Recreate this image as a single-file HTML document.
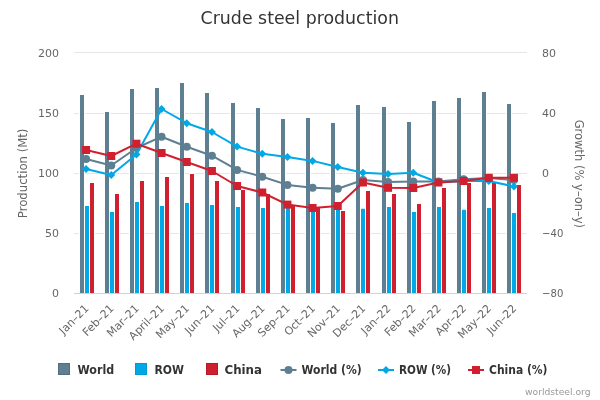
<!DOCTYPE html><html><head><meta charset="utf-8"><title>Crude steel production</title>
<style>html,body{margin:0;padding:0;background:#fff;}svg{display:block;will-change:transform;}text{font-family:'DejaVu Sans', 'Liberation Sans', sans-serif;}</style></head><body>
<svg width="600" height="400" viewBox="0 0 600 400">
<rect x="0" y="0" width="600" height="400" fill="#ffffff"/>
<text x="299.75" y="24" text-anchor="middle" font-size="18" fill="#333333" textLength="198.3" lengthAdjust="spacingAndGlyphs">Crude steel production</text>
<rect x="74" y="52" width="453" height="1" fill="#e6e6e6"/>
<rect x="74" y="113" width="453" height="1" fill="#e6e6e6"/>
<rect x="74" y="173" width="453" height="1" fill="#e6e6e6"/>
<rect x="74" y="233" width="453" height="1" fill="#e6e6e6"/>
<text x="59" y="56.6" text-anchor="end" font-size="11" fill="#666666">200</text>
<text x="59" y="116.5" text-anchor="end" font-size="11" fill="#666666">150</text>
<text x="59" y="176.5" text-anchor="end" font-size="11" fill="#666666">100</text>
<text x="59" y="236.5" text-anchor="end" font-size="11" fill="#666666">50</text>
<text x="59" y="296.6" text-anchor="end" font-size="11" fill="#666666">0</text>
<text x="542" y="56.6" font-size="11" fill="#666666">80</text>
<text x="542" y="116.5" font-size="11" fill="#666666">40</text>
<text x="542" y="176.5" font-size="11" fill="#666666">0</text>
<text x="542" y="236.5" font-size="11" fill="#666666" textLength="21.3" lengthAdjust="spacingAndGlyphs">−40</text>
<text x="542" y="296.6" font-size="11" fill="#666666" textLength="21.3" lengthAdjust="spacingAndGlyphs">−80</text>
<text transform="translate(27,173.4) rotate(-90)" text-anchor="middle" font-size="12" fill="#666666" textLength="89.6" lengthAdjust="spacingAndGlyphs">Production (Mt)</text>
<text transform="translate(574.5,173.85) rotate(90)" text-anchor="middle" font-size="12" fill="#666666" textLength="108.4" lengthAdjust="spacingAndGlyphs">Growth (% y–on–y)</text>
<rect x="79.5" y="94.5" width="5" height="199.5" fill="#5e7f92" stroke="#ffffff" stroke-width="1"/>
<rect x="84.5" y="205.5" width="5" height="88.5" fill="#00a9e6" stroke="#ffffff" stroke-width="1"/>
<rect x="89.5" y="182.5" width="5" height="111.5" fill="#d0202f" stroke="#ffffff" stroke-width="1"/>
<rect x="104.5" y="111.5" width="5" height="182.5" fill="#5e7f92" stroke="#ffffff" stroke-width="1"/>
<rect x="109.5" y="211.5" width="5" height="82.5" fill="#00a9e6" stroke="#ffffff" stroke-width="1"/>
<rect x="114.5" y="193.5" width="5" height="100.5" fill="#d0202f" stroke="#ffffff" stroke-width="1"/>
<rect x="129.5" y="88.5" width="5" height="205.5" fill="#5e7f92" stroke="#ffffff" stroke-width="1"/>
<rect x="134.5" y="201.5" width="5" height="92.5" fill="#00a9e6" stroke="#ffffff" stroke-width="1"/>
<rect x="139.5" y="180.5" width="5" height="113.5" fill="#d0202f" stroke="#ffffff" stroke-width="1"/>
<rect x="154.5" y="87.5" width="5" height="206.5" fill="#5e7f92" stroke="#ffffff" stroke-width="1"/>
<rect x="159.5" y="205.5" width="5" height="88.5" fill="#00a9e6" stroke="#ffffff" stroke-width="1"/>
<rect x="164.5" y="176.5" width="5" height="117.5" fill="#d0202f" stroke="#ffffff" stroke-width="1"/>
<rect x="179.5" y="82.5" width="5" height="211.5" fill="#5e7f92" stroke="#ffffff" stroke-width="1"/>
<rect x="184.5" y="202.5" width="5" height="91.5" fill="#00a9e6" stroke="#ffffff" stroke-width="1"/>
<rect x="189.5" y="173.5" width="5" height="120.5" fill="#d0202f" stroke="#ffffff" stroke-width="1"/>
<rect x="204.5" y="92.5" width="5" height="201.5" fill="#5e7f92" stroke="#ffffff" stroke-width="1"/>
<rect x="209.5" y="204.5" width="5" height="89.5" fill="#00a9e6" stroke="#ffffff" stroke-width="1"/>
<rect x="214.5" y="180.5" width="5" height="113.5" fill="#d0202f" stroke="#ffffff" stroke-width="1"/>
<rect x="230.5" y="102.5" width="5" height="191.5" fill="#5e7f92" stroke="#ffffff" stroke-width="1"/>
<rect x="235.5" y="206.5" width="5" height="87.5" fill="#00a9e6" stroke="#ffffff" stroke-width="1"/>
<rect x="240.5" y="189.5" width="5" height="104.5" fill="#d0202f" stroke="#ffffff" stroke-width="1"/>
<rect x="255.5" y="107.5" width="5" height="186.5" fill="#5e7f92" stroke="#ffffff" stroke-width="1"/>
<rect x="260.5" y="207.5" width="5" height="86.5" fill="#00a9e6" stroke="#ffffff" stroke-width="1"/>
<rect x="265.5" y="193.5" width="5" height="100.5" fill="#d0202f" stroke="#ffffff" stroke-width="1"/>
<rect x="280.5" y="118.5" width="5" height="175.5" fill="#5e7f92" stroke="#ffffff" stroke-width="1"/>
<rect x="285.5" y="207.5" width="5" height="86.5" fill="#00a9e6" stroke="#ffffff" stroke-width="1"/>
<rect x="290.5" y="204.5" width="5" height="89.5" fill="#d0202f" stroke="#ffffff" stroke-width="1"/>
<rect x="305.5" y="117.5" width="5" height="176.5" fill="#5e7f92" stroke="#ffffff" stroke-width="1"/>
<rect x="310.5" y="204.5" width="5" height="89.5" fill="#00a9e6" stroke="#ffffff" stroke-width="1"/>
<rect x="315.5" y="206.5" width="5" height="87.5" fill="#d0202f" stroke="#ffffff" stroke-width="1"/>
<rect x="330.5" y="122.5" width="5" height="171.5" fill="#5e7f92" stroke="#ffffff" stroke-width="1"/>
<rect x="335.5" y="208.5" width="5" height="85.5" fill="#00a9e6" stroke="#ffffff" stroke-width="1"/>
<rect x="340.5" y="210.5" width="5" height="83.5" fill="#d0202f" stroke="#ffffff" stroke-width="1"/>
<rect x="355.5" y="104.5" width="5" height="189.5" fill="#5e7f92" stroke="#ffffff" stroke-width="1"/>
<rect x="360.5" y="208.2" width="5" height="85.80000000000001" fill="#00a9e6" stroke="#ffffff" stroke-width="1"/>
<rect x="365.5" y="190.5" width="5" height="103.5" fill="#d0202f" stroke="#ffffff" stroke-width="1"/>
<rect x="381.5" y="106.5" width="5" height="187.5" fill="#5e7f92" stroke="#ffffff" stroke-width="1"/>
<rect x="386.5" y="206.5" width="5" height="87.5" fill="#00a9e6" stroke="#ffffff" stroke-width="1"/>
<rect x="391.5" y="193.5" width="5" height="100.5" fill="#d0202f" stroke="#ffffff" stroke-width="1"/>
<rect x="406.5" y="121.5" width="5" height="172.5" fill="#5e7f92" stroke="#ffffff" stroke-width="1"/>
<rect x="411.5" y="211.5" width="5" height="82.5" fill="#00a9e6" stroke="#ffffff" stroke-width="1"/>
<rect x="416.5" y="203.5" width="5" height="90.5" fill="#d0202f" stroke="#ffffff" stroke-width="1"/>
<rect x="431.5" y="100.5" width="5" height="193.5" fill="#5e7f92" stroke="#ffffff" stroke-width="1"/>
<rect x="436.5" y="206.5" width="5" height="87.5" fill="#00a9e6" stroke="#ffffff" stroke-width="1"/>
<rect x="441.5" y="187.5" width="5" height="106.5" fill="#d0202f" stroke="#ffffff" stroke-width="1"/>
<rect x="456.5" y="97.5" width="5" height="196.5" fill="#5e7f92" stroke="#ffffff" stroke-width="1"/>
<rect x="461.5" y="209.2" width="5" height="84.80000000000001" fill="#00a9e6" stroke="#ffffff" stroke-width="1"/>
<rect x="466.5" y="182.5" width="5" height="111.5" fill="#d0202f" stroke="#ffffff" stroke-width="1"/>
<rect x="481.5" y="91.5" width="5" height="202.5" fill="#5e7f92" stroke="#ffffff" stroke-width="1"/>
<rect x="486.5" y="207.5" width="5" height="86.5" fill="#00a9e6" stroke="#ffffff" stroke-width="1"/>
<rect x="491.5" y="182.5" width="5" height="111.5" fill="#d0202f" stroke="#ffffff" stroke-width="1"/>
<rect x="506.5" y="103.5" width="5" height="190.5" fill="#5e7f92" stroke="#ffffff" stroke-width="1"/>
<rect x="511.5" y="212.5" width="5" height="81.5" fill="#00a9e6" stroke="#ffffff" stroke-width="1"/>
<rect x="516.5" y="184.5" width="5" height="109.5" fill="#d0202f" stroke="#ffffff" stroke-width="1"/>
<rect x="74" y="293" width="453" height="1" fill="#cdd3de"/>
<polyline points="86.08,159 111.25,165.5 136.42,148 161.58,136.7 186.75,146.7 211.92,155.7 237.08,169.9 262.25,176.7 287.42,184.9 312.58,187.7 337.75,188.7 362.92,180 388.08,182 413.25,181.5 438.42,181.5 463.58,179.2 488.75,178 513.92,180" fill="none" stroke="#5e7f92" stroke-width="2" stroke-linejoin="round" stroke-linecap="round"/>
<circle cx="86.08" cy="159" r="4" fill="#5e7f92"/>
<circle cx="111.25" cy="165.5" r="4" fill="#5e7f92"/>
<circle cx="136.42" cy="148" r="4" fill="#5e7f92"/>
<circle cx="161.58" cy="136.7" r="4" fill="#5e7f92"/>
<circle cx="186.75" cy="146.7" r="4" fill="#5e7f92"/>
<circle cx="211.92" cy="155.7" r="4" fill="#5e7f92"/>
<circle cx="237.08" cy="169.9" r="4" fill="#5e7f92"/>
<circle cx="262.25" cy="176.7" r="4" fill="#5e7f92"/>
<circle cx="287.42" cy="184.9" r="4" fill="#5e7f92"/>
<circle cx="312.58" cy="187.7" r="4" fill="#5e7f92"/>
<circle cx="337.75" cy="188.7" r="4" fill="#5e7f92"/>
<circle cx="362.92" cy="180" r="4" fill="#5e7f92"/>
<circle cx="388.08" cy="182" r="4" fill="#5e7f92"/>
<circle cx="413.25" cy="181.5" r="4" fill="#5e7f92"/>
<circle cx="438.42" cy="181.5" r="4" fill="#5e7f92"/>
<circle cx="463.58" cy="179.2" r="4" fill="#5e7f92"/>
<circle cx="488.75" cy="178" r="4" fill="#5e7f92"/>
<circle cx="513.92" cy="180" r="4" fill="#5e7f92"/>
<polyline points="86.08,169 111.25,175 136.42,154.5 161.58,109 186.75,123.2 211.92,132 237.08,146.6 262.25,153.8 287.42,156.9 312.58,160.9 337.75,167 362.92,172.8 388.08,174.1 413.25,172.7 438.42,182.5 463.58,181 488.75,180.9 513.92,186.5" fill="none" stroke="#00a9e6" stroke-width="2" stroke-linejoin="round" stroke-linecap="round"/>
<path d="M86.08 165L90.08 169L86.08 173L82.08 169Z" fill="#00a9e6"/>
<path d="M111.25 171L115.25 175L111.25 179L107.25 175Z" fill="#00a9e6"/>
<path d="M136.42 150.5L140.42 154.5L136.42 158.5L132.42 154.5Z" fill="#00a9e6"/>
<path d="M161.58 105L165.58 109L161.58 113L157.58 109Z" fill="#00a9e6"/>
<path d="M186.75 119.2L190.75 123.2L186.75 127.2L182.75 123.2Z" fill="#00a9e6"/>
<path d="M211.92 128L215.92 132L211.92 136L207.92 132Z" fill="#00a9e6"/>
<path d="M237.08 142.6L241.08 146.6L237.08 150.6L233.08 146.6Z" fill="#00a9e6"/>
<path d="M262.25 149.8L266.25 153.8L262.25 157.8L258.25 153.8Z" fill="#00a9e6"/>
<path d="M287.42 152.9L291.42 156.9L287.42 160.9L283.42 156.9Z" fill="#00a9e6"/>
<path d="M312.58 156.9L316.58 160.9L312.58 164.9L308.58 160.9Z" fill="#00a9e6"/>
<path d="M337.75 163L341.75 167L337.75 171L333.75 167Z" fill="#00a9e6"/>
<path d="M362.92 168.8L366.92 172.8L362.92 176.8L358.92 172.8Z" fill="#00a9e6"/>
<path d="M388.08 170.1L392.08 174.1L388.08 178.1L384.08 174.1Z" fill="#00a9e6"/>
<path d="M413.25 168.7L417.25 172.7L413.25 176.7L409.25 172.7Z" fill="#00a9e6"/>
<path d="M438.42 178.5L442.42 182.5L438.42 186.5L434.42 182.5Z" fill="#00a9e6"/>
<path d="M463.58 177L467.58 181L463.58 185L459.58 181Z" fill="#00a9e6"/>
<path d="M488.75 176.9L492.75 180.9L488.75 184.9L484.75 180.9Z" fill="#00a9e6"/>
<path d="M513.92 182.5L517.92 186.5L513.92 190.5L509.91999999999996 186.5Z" fill="#00a9e6"/>
<polyline points="86.08,150 111.25,156 136.42,143.7 161.58,153 186.75,162 211.92,171 237.08,186 262.25,192.5 287.42,204.6 312.58,208 337.75,206 362.92,182.5 388.08,187.8 413.25,188 438.42,182.5 463.58,181 488.75,177.8 513.92,177.8" fill="none" stroke="#d0202f" stroke-width="2" stroke-linejoin="round" stroke-linecap="round"/>
<rect x="82.08" y="146" width="8" height="8" fill="#d0202f"/>
<rect x="107.25" y="152" width="8" height="8" fill="#d0202f"/>
<rect x="132.42" y="139.7" width="8" height="8" fill="#d0202f"/>
<rect x="157.58" y="149" width="8" height="8" fill="#d0202f"/>
<rect x="182.75" y="158" width="8" height="8" fill="#d0202f"/>
<rect x="207.92" y="167" width="8" height="8" fill="#d0202f"/>
<rect x="233.08" y="182" width="8" height="8" fill="#d0202f"/>
<rect x="258.25" y="188.5" width="8" height="8" fill="#d0202f"/>
<rect x="283.42" y="200.6" width="8" height="8" fill="#d0202f"/>
<rect x="308.58" y="204" width="8" height="8" fill="#d0202f"/>
<rect x="333.75" y="202" width="8" height="8" fill="#d0202f"/>
<rect x="358.92" y="178.5" width="8" height="8" fill="#d0202f"/>
<rect x="384.08" y="183.8" width="8" height="8" fill="#d0202f"/>
<rect x="409.25" y="184" width="8" height="8" fill="#d0202f"/>
<rect x="434.42" y="178.5" width="8" height="8" fill="#d0202f"/>
<rect x="459.58" y="177" width="8" height="8" fill="#d0202f"/>
<rect x="484.75" y="173.8" width="8" height="8" fill="#d0202f"/>
<rect x="509.91999999999996" y="173.8" width="8" height="8" fill="#d0202f"/>
<text transform="translate(89.38,309.1) rotate(-45)" text-anchor="end" font-size="11" fill="#666666">Jan–21</text>
<text transform="translate(114.55,309.1) rotate(-45)" text-anchor="end" font-size="11" fill="#666666">Feb–21</text>
<text transform="translate(139.72,309.1) rotate(-45)" text-anchor="end" font-size="11" fill="#666666">Mar–21</text>
<text transform="translate(164.88,309.1) rotate(-45)" text-anchor="end" font-size="11" fill="#666666">April–21</text>
<text transform="translate(190.05,309.1) rotate(-45)" text-anchor="end" font-size="11" fill="#666666">May–21</text>
<text transform="translate(215.22,309.1) rotate(-45)" text-anchor="end" font-size="11" fill="#666666">Jun–21</text>
<text transform="translate(240.38,309.1) rotate(-45)" text-anchor="end" font-size="11" fill="#666666">Jul–21</text>
<text transform="translate(265.55,309.1) rotate(-45)" text-anchor="end" font-size="11" fill="#666666">Aug–21</text>
<text transform="translate(290.72,309.1) rotate(-45)" text-anchor="end" font-size="11" fill="#666666">Sep–21</text>
<text transform="translate(315.88,309.1) rotate(-45)" text-anchor="end" font-size="11" fill="#666666">Oct–21</text>
<text transform="translate(341.05,309.1) rotate(-45)" text-anchor="end" font-size="11" fill="#666666">Nov–21</text>
<text transform="translate(366.22,309.1) rotate(-45)" text-anchor="end" font-size="11" fill="#666666">Dec–21</text>
<text transform="translate(391.38,309.1) rotate(-45)" text-anchor="end" font-size="11" fill="#666666">Jan–22</text>
<text transform="translate(416.55,309.1) rotate(-45)" text-anchor="end" font-size="11" fill="#666666">Feb–22</text>
<text transform="translate(441.72,309.1) rotate(-45)" text-anchor="end" font-size="11" fill="#666666">Mar–22</text>
<text transform="translate(466.88,309.1) rotate(-45)" text-anchor="end" font-size="11" fill="#666666">Apr–22</text>
<text transform="translate(492.05,309.1) rotate(-45)" text-anchor="end" font-size="11" fill="#666666">May–22</text>
<text transform="translate(517.22,309.1) rotate(-45)" text-anchor="end" font-size="11" fill="#666666">Jun–22</text>
<rect x="58" y="363" width="12" height="12" fill="#5e7f92"/><rect x="58.5" y="363.5" width="11" height="11" fill="none" stroke="#000" stroke-opacity="0.12"/>
<text x="77.5" y="373.5" font-size="12" font-weight="bold" fill="#333333" textLength="36.7" lengthAdjust="spacingAndGlyphs">World</text>
<rect x="135" y="363" width="12" height="12" fill="#00a9e6"/><rect x="135.5" y="363.5" width="11" height="11" fill="none" stroke="#000" stroke-opacity="0.08"/>
<text x="154.5" y="373.5" font-size="12" font-weight="bold" fill="#333333" textLength="29.5" lengthAdjust="spacingAndGlyphs">ROW</text>
<rect x="206" y="363" width="12" height="12" fill="#d0202f"/><rect x="206.5" y="363.5" width="11" height="11" fill="none" stroke="#000" stroke-opacity="0.15"/>
<text x="224.5" y="373.5" font-size="12" font-weight="bold" fill="#333333" textLength="37.5" lengthAdjust="spacingAndGlyphs">China</text>
<rect x="280.5" y="369" width="16" height="2" fill="#5e7f92"/><circle cx="288.5" cy="370" r="4" fill="#5e7f92"/>
<text x="301.5" y="373.5" font-size="12" font-weight="bold" fill="#333333" textLength="60.2" lengthAdjust="spacingAndGlyphs">World (%)</text>
<rect x="378" y="369" width="16" height="2" fill="#00a9e6"/><path d="M386 366L390 370L386 374L382 370Z" fill="#00a9e6"/>
<text x="399" y="373.5" font-size="12" font-weight="bold" fill="#333333" textLength="52.1" lengthAdjust="spacingAndGlyphs">ROW (%)</text>
<rect x="468" y="369" width="16" height="2" fill="#d0202f"/><rect x="472" y="366" width="8" height="8" fill="#d0202f"/>
<text x="489" y="373.5" font-size="12" font-weight="bold" fill="#333333" textLength="58.5" lengthAdjust="spacingAndGlyphs">China (%)</text>
<text x="590.5" y="395" text-anchor="end" font-size="9.5" fill="#999999" textLength="65.5" lengthAdjust="spacingAndGlyphs">worldsteel.org</text>
</svg></body></html>
